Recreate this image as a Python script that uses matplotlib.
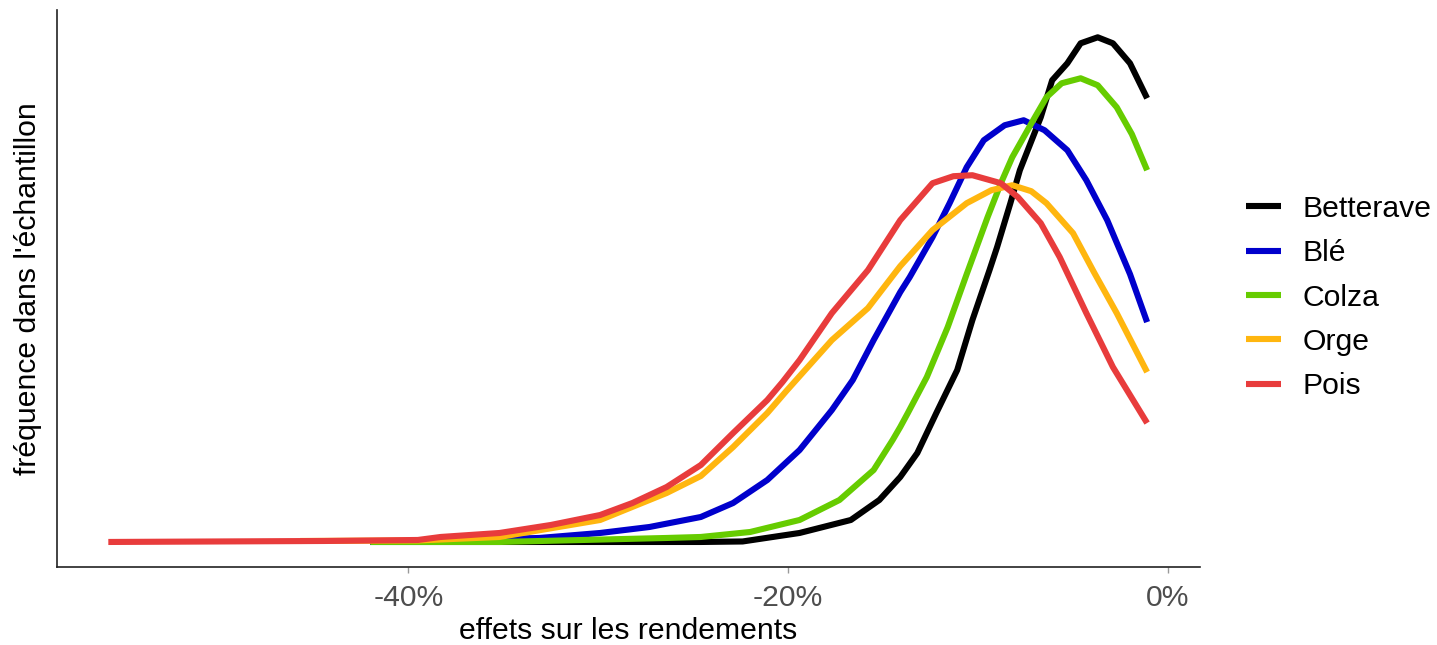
import matplotlib
matplotlib.use('Agg')
import matplotlib.pyplot as plt

# densities (x in %, y in arbitrary density units)
betterave_x = [-42.0, -29.6, -24.6, -22.4, -19.4, -16.7, -15.2, -14.1, -13.2, -12.2,
               -11.1, -10.3, -9.4, -9.0, -8.3, -7.8, -6.7, -6.1, -5.3, -4.6,
               -3.7, -2.9, -2.0, -1.1]
betterave_y = [0, 0, 0, 0.5, 9, 22, 42, 65, 89, 129,
               172, 222, 272, 295, 339, 372, 425, 462, 479, 499,
               505, 499, 479, 444]

ble_x = [-42.0, -33.1, -29.9, -27.3, -24.6, -22.9, -21.1, -19.4, -17.7, -16.6,
         -15.5, -14.1, -13.6, -12.4, -11.5, -10.6, -9.7, -8.6, -7.6, -6.5,
         -5.3, -4.3, -3.2, -2.0, -1.1]
ble_y = [0, 4, 9, 15, 25, 39, 62, 92, 132, 162,
         202, 250, 265, 305, 339, 375, 402, 417, 422, 412,
         392, 362, 322, 268, 220]

colza_x = [-42.0, -35.2, -26.4, -24.6, -22.0, -19.4, -17.3, -15.5, -14.5, -14.1,
           -13.7, -12.7, -11.6, -10.6, -9.5, -8.8, -8.2, -7.1, -6.4, -5.6,
           -4.6, -3.7, -2.7, -1.9, -1.1]
colza_y = [0, 0, 4, 5, 10, 22, 42, 72, 102, 115,
           129, 165, 215, 268, 325, 359, 385, 422, 445, 459,
           464, 457, 435, 408, 372]

orge_x = [-45.7, -39.5, -35.2, -29.9, -26.4, -24.6, -22.9, -21.1, -20.1, -17.7,
          -15.8, -14.1, -12.4, -10.6, -9.3, -8.2, -7.2, -6.4, -5.0, -3.9,
          -2.7, -1.1]
orge_y = [1, 1.5, 5, 22, 49, 66, 95, 129, 151, 202,
          234, 276, 312, 339, 352, 357, 351, 339, 309, 270,
          229, 170]

pois_x = [-55.8, -44.4, -39.5, -38.3, -35.2, -32.5, -29.9, -28.2, -26.4, -24.6,
          -22.9, -21.1, -20.3, -19.4, -17.7, -15.8, -14.1, -12.4, -11.3, -10.3,
          -8.8, -7.9, -6.7, -5.7, -5.2, -4.3, -2.9, -1.1]
pois_y = [0, 1, 2, 5, 9, 17, 27, 39, 55, 77,
          109, 142, 160, 182, 229, 272, 322, 359, 366, 367,
          359, 345, 319, 285, 265, 229, 175, 119]

series = [
    ('Betterave', betterave_x, betterave_y, '#000000'),
    ('Blé', ble_x, ble_y, '#0000CC'),
    ('Colza', colza_x, colza_y, '#66CC00'),
    ('Orge', orge_x, orge_y, '#FFB60F'),
    ('Pois', pois_x, pois_y, '#E83C3C'),
]
xticks = [-40, -20, 0]
xtick_labels = ['-40%', '-20%', '0%']

plt.rcParams['font.family'] = ['Liberation Sans', 'DejaVu Sans']

fig = plt.figure(figsize=(14.37, 6.45), dpi=100)
ax = fig.add_axes([0.0397, 0.121, 0.7953, 0.863])

for name, xs, ys, col in series:
    ax.plot(xs, ys, color=col, lw=4.4, label=name,
            solid_capstyle='butt', solid_joinstyle='round')

ax.set_xlim(-58.5, 1.68)
ax.set_ylim(-25, 532)
ax.set_xticks(xticks)
ax.set_xticklabels(xtick_labels)
ax.set_yticks([])
ax.tick_params(axis='x', length=4, width=1, color='#999999',
               labelsize=21.7, labelcolor='#4d4d4d', pad=8)
for side in ['top', 'right']:
    ax.spines[side].set_visible(False)
for side in ['left', 'bottom']:
    ax.spines[side].set_color('#222222')
    ax.spines[side].set_linewidth(1.2)

ax.set_xlabel('effets sur les rendements', fontsize=21.7, labelpad=4)
ax.set_ylabel("fréquence dans l'échantillon", fontsize=21.7, labelpad=11)

ax.legend(loc='center left', bbox_to_anchor=(1.017, 0.484), frameon=False,
          fontsize=21.7, handlelength=1.14, handletextpad=0.72, labelspacing=0.54)

fig.savefig('out.png', dpi=100)
